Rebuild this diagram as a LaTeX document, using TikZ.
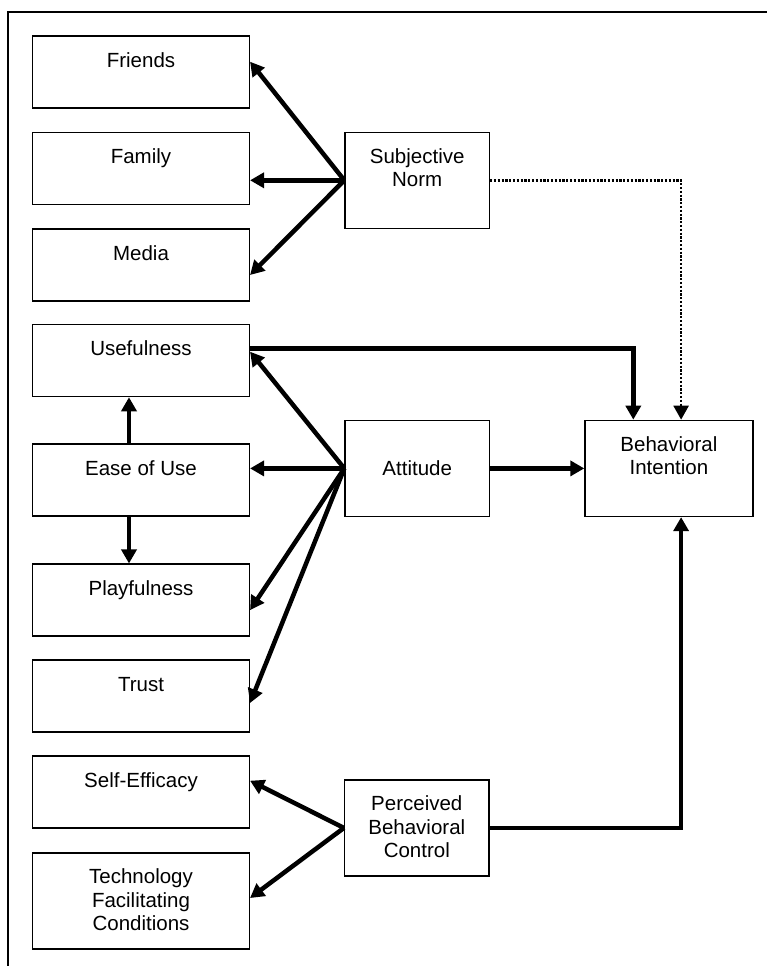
\documentclass[tikz,border=0pt]{standalone}
\usepackage{fontspec}
\setmainfont{Liberation Sans}
\usetikzlibrary{arrows.meta}
% multi-line box text whose baseline is the first line
\newcommand\boxlines[1]{\begin{tabular}[t]{@{}c@{}}#1\end{tabular}}
\begin{document}
\begin{tikzpicture}[x=1pt,y=-1pt,
  box/.style={draw, line width=1.5pt, inner sep=0pt, text height=31pt,
    font=\fontsize{20.5}{23.3}\selectfont},
  leftbox/.style={box, minimum width=216.6pt, minimum height=72pt, text depth=41pt},
  tallbox/.style={box, minimum width=216.6pt, minimum height=96pt, text depth=65pt},
  midbox/.style={box, minimum width=144.3pt, minimum height=96pt, text depth=65pt},
  wide/.style={box, minimum width=167.7pt, minimum height=96pt, text depth=65pt},
  conn/.style={line width=4.5pt, -{Triangle[length=14pt,width=15pt]}},
  dotconn/.style={line width=2.5pt, dash pattern=on 2.2pt off 1.6pt,
    -{Triangle[length=14pt,width=15pt]}},
  frame/.style={line width=1.8pt}
]
\useasboundingbox (0,0) rectangle (767,966);

% page frame (top and left edges)
\draw[frame] (767,11.7) -- (8.3,11.7) -- (8.3,966);

% left column
\node[leftbox] (friends) at (141,72.2)  {Friends};
\node[leftbox] (family)  at (141,168.3) {Family};
\node[leftbox] (media)   at (141,265)   {Media};
\node[leftbox] (useful)  at (141,360.5) {Usefulness};
\node[leftbox] (ease)    at (141,480.2) {Ease of Use};
\node[leftbox] (play)    at (141,600.2) {Playfulness};
\node[leftbox] (trust)   at (141,696)   {Trust};
\node[leftbox] (selfeff) at (141,792)   {Self-Efficacy};
\node[tallbox] (tech)    at (141,900.9) {\boxlines{Technology\\Facilitating\\Conditions}};

% middle column
\node[midbox] (sn)  at (417.2,180.3) {\boxlines{Subjective\\Norm}};
\node[midbox, text height=55pt, text depth=41pt] (att) at (417.2,468.4) {Attitude};
\node[midbox] (pbc) at (416.8,827.9) {\boxlines{Perceived\\Behavioral\\Control}};

% outcome
\node[wide] (bi) at (668.9,468.4) {\boxlines{Behavioral\\Intention}};

% subjective norm
\draw[conn] (sn.west) -- ([yshift=10.5pt]friends.east);
\draw[conn] (sn.west) -- (sn.west -| family.east);
\draw[conn] (sn.west) -- ([yshift=-10pt]media.east);
\draw[dotconn] (sn.east) -| ([xshift=12.2pt]bi.north);

% attitude
\draw[conn] (att.west) -- ([yshift=8.8pt]useful.east);
\draw[conn] (att.west) -- (att.west -| ease.east);
\draw[conn] (att.west) -- ([yshift=-9.9pt]play.east);
\draw[conn] (att.west) -- ([yshift=-7pt]trust.east);
\draw[conn] (att.east) -- (att.east -| bi.west);
\draw[conn] ([xshift=-12pt]ease.north) -- ([xshift=-12pt]useful.south);
\draw[conn] ([xshift=-12pt]ease.south) -- ([xshift=-12pt]play.north);
\draw[conn] ([yshift=12.2pt]useful.east) -| ([xshift=-35.6pt]bi.north);

% perceived behavioral control
\draw[conn] (pbc.west) -- ([yshift=11.3pt]selfeff.east);
\draw[conn] (pbc.west) -- ([yshift=2.9pt]tech.east);
\draw[conn] (pbc.east) -| ([xshift=12.2pt]bi.south);
\end{tikzpicture}
\end{document}
